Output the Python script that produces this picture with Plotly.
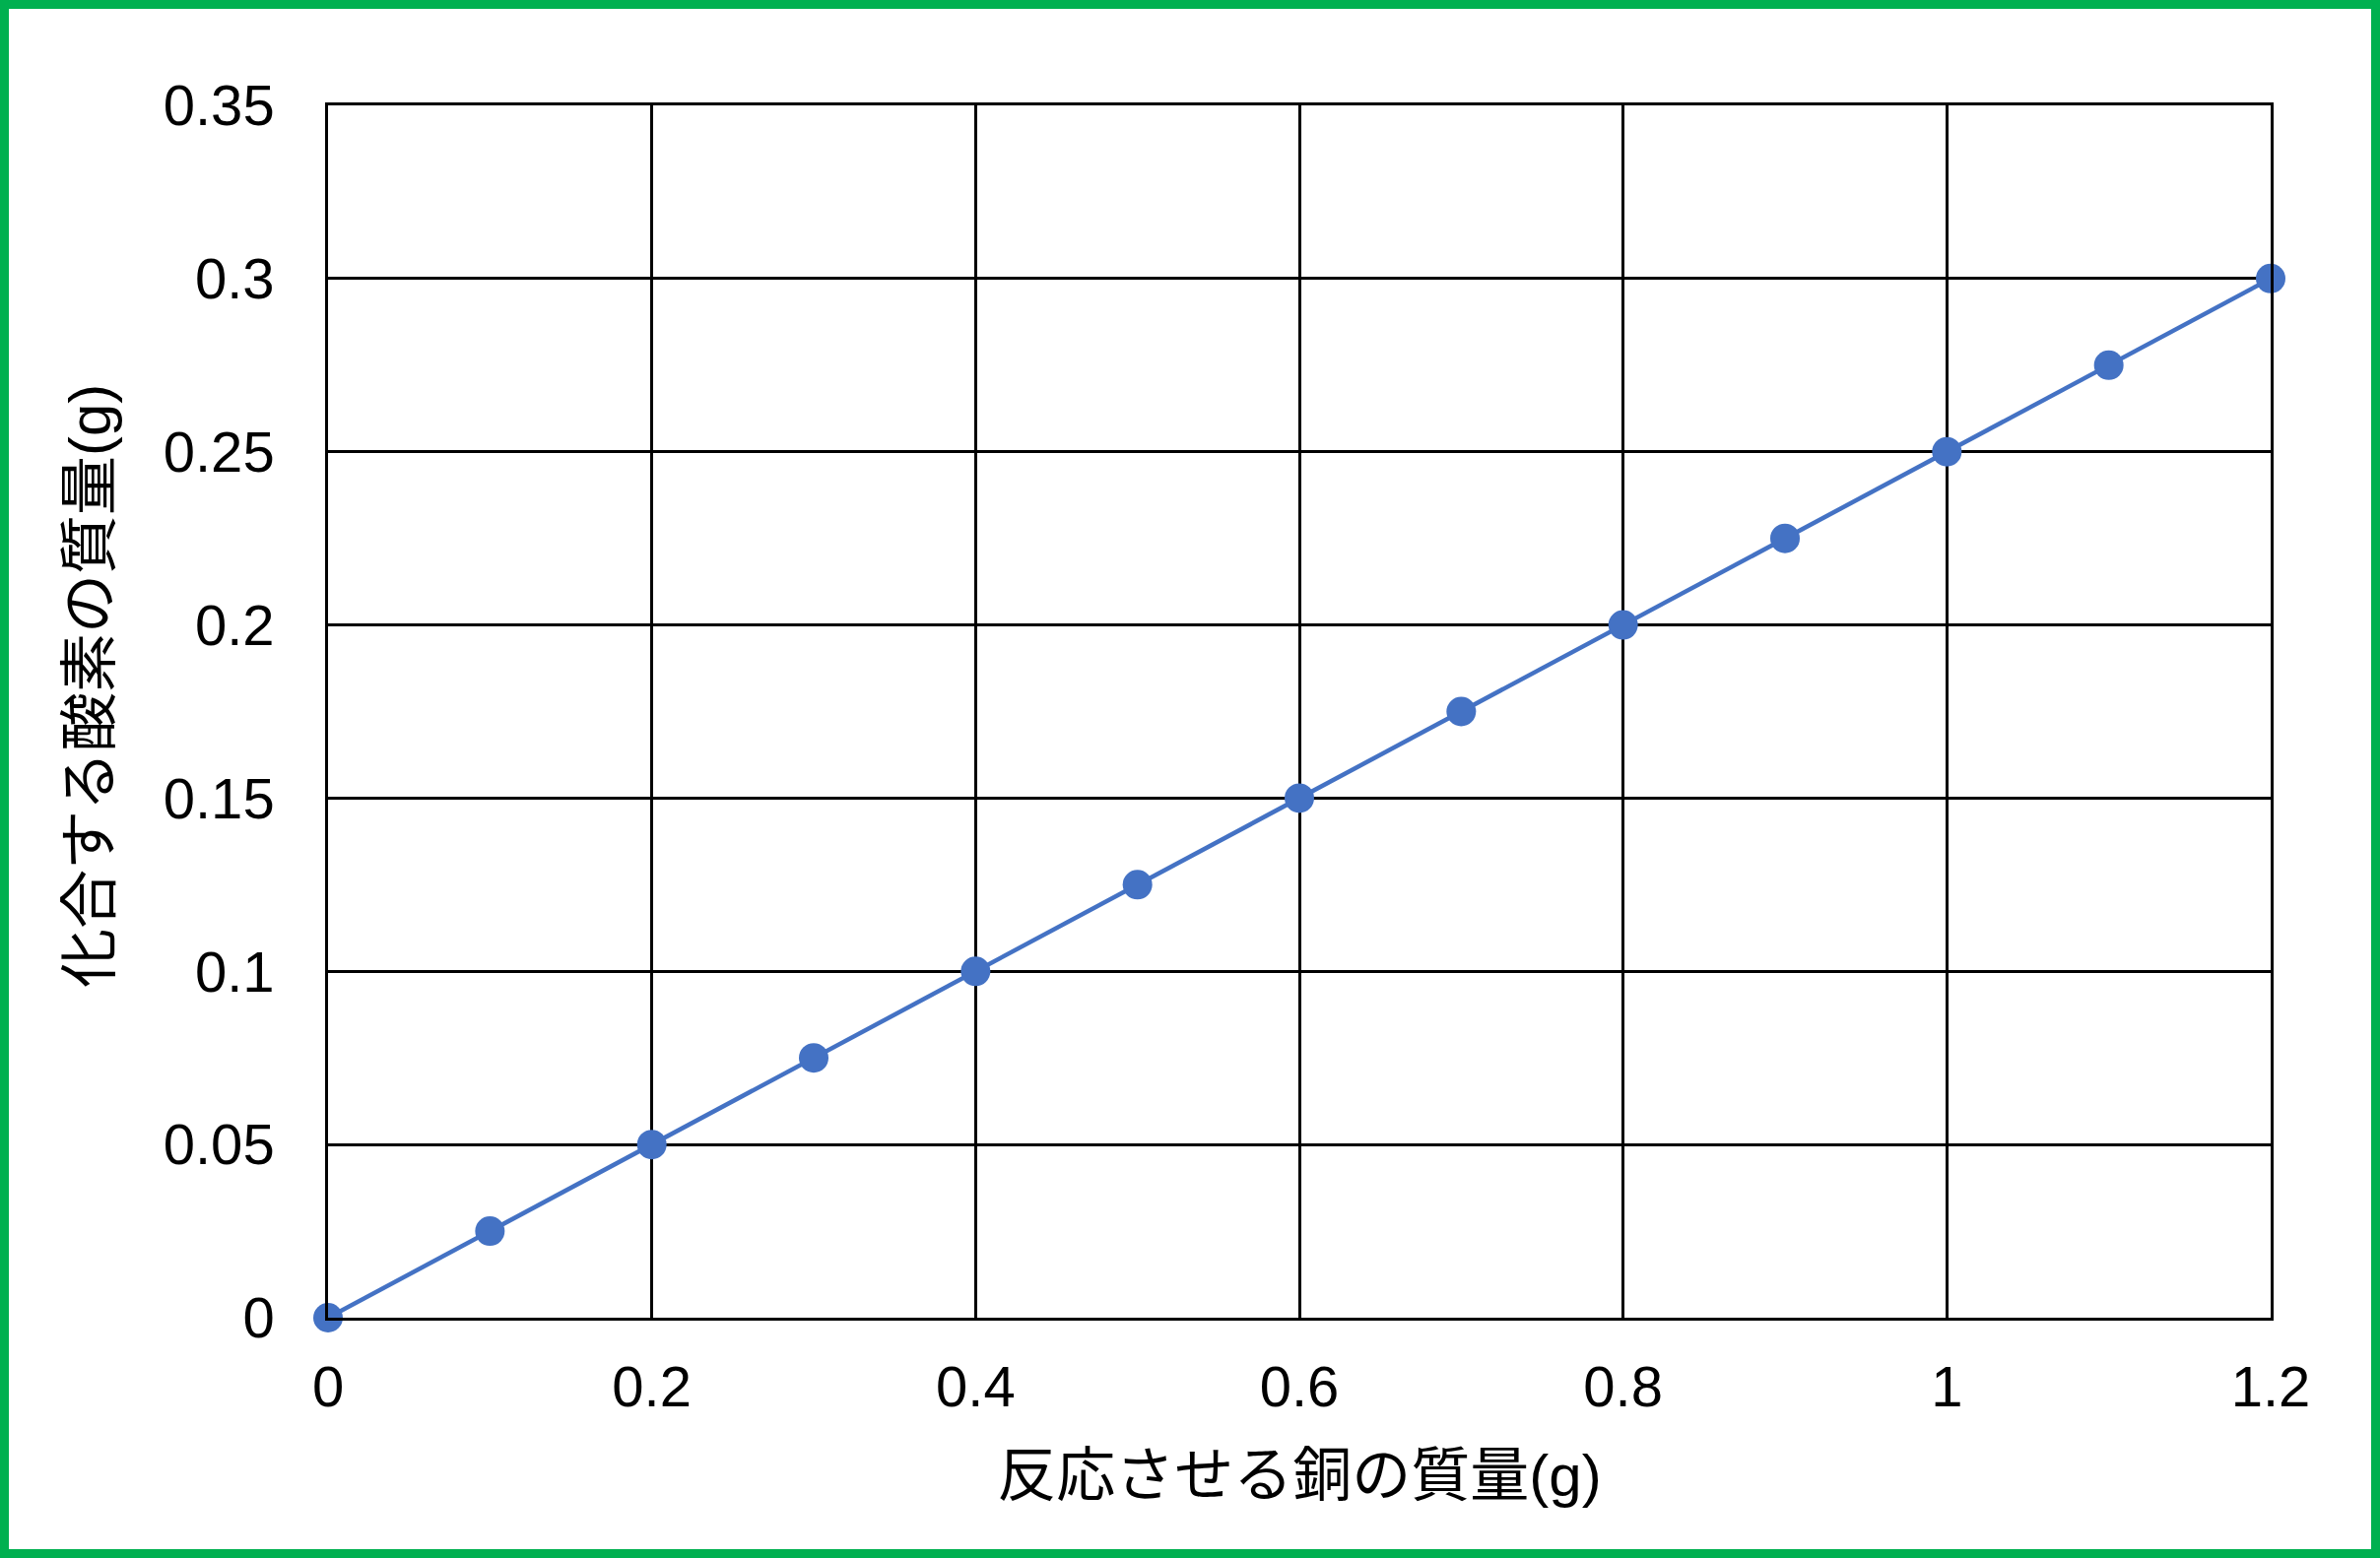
import plotly.graph_objects as go

copper_mass = [0, 0.1, 0.2, 0.3, 0.4, 0.5, 0.6, 0.7, 0.8, 0.9, 1.0, 1.1, 1.2]
oxygen_mass = [0, 0.025, 0.05, 0.075, 0.1, 0.125, 0.15, 0.175, 0.2, 0.225, 0.25, 0.275, 0.3]

x_title = "反応させる銅の質量(g)"
y_title = "化合する酸素の質量(g)"

W, H = 2416, 1582
ML, MR, MT, MB = 333, 111, 107, 244
PW, PH = W - ML - MR, H - MT - MB

FONT = "Liberation Sans, Arial, Noto Sans CJK JP, sans-serif"
BLUE = "#4472C4"

fig = go.Figure()
fig.add_trace(go.Scatter(
    x=copper_mass, y=oxygen_mass, mode="lines+markers",
    line=dict(color=BLUE, width=4.5),
    marker=dict(color=BLUE, size=30),
    cliponaxis=False, showlegend=False,
))

axis_common = dict(
    showline=True, mirror=True, linecolor="black", linewidth=2.5,
    showgrid=True, gridcolor="black", gridwidth=2.5,
    zeroline=False, ticks="", tickfont=dict(family=FONT, size=58, color="black"),
)

fig.update_xaxes(range=[0, 1.2], dtick=0.2, tick0=0, ticklabelstandoff=18,
                 title=dict(text=x_title, font=dict(family=FONT, size=60, color="black"), standoff=38),
                 **axis_common)
fig.update_yaxes(range=[0, 0.35], dtick=0.05, tick0=0, ticklabelstandoff=40,
                 **axis_common)

# y-axis title as annotation (slightly above plot centre, as in the original)
fig.add_annotation(text=y_title, textangle=-90, showarrow=False,
                   xref="paper", yref="paper",
                   x=(92 - ML) / PW, y=(H - MB - 697) / PH,
                   xanchor="center", yanchor="middle",
                   font=dict(family=FONT, size=60, color="black"))

# green frame around the whole picture
bw = 9
fig.add_shape(type="rect", xref="paper", yref="paper",
              x0=(bw / 2 - ML) / PW, x1=(W - bw / 2 - ML) / PW,
              y0=(bw / 2 - MB) / PH, y1=(H - bw / 2 - MB) / PH,
              line=dict(color="#00B050", width=bw), layer="above")

fig.update_layout(
    width=W, height=H,
    margin=dict(l=ML, r=MR, t=MT, b=MB, autoexpand=False),
    paper_bgcolor="white", plot_bgcolor="white",
    font=dict(family=FONT),
)

fig.write_html("out.html", config={"displayModeBar": False},
               post_script="document.body.style.margin='0';")
